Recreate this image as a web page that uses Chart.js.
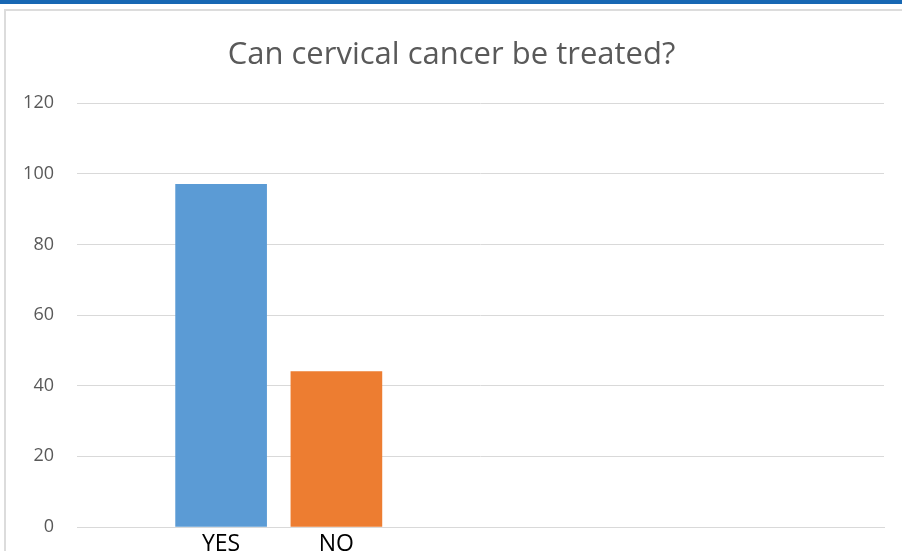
<!DOCTYPE html>
<html>
<head>
<meta charset="utf-8">
<script src="https://cdn.jsdelivr.net/npm/chart.js@4"></script>
<style>
  html, body { margin: 0; padding: 0; background: #fff; overflow: hidden; }
  #wrap { position: relative; width: 902px; height: 551px; overflow: hidden; }
  #band { position: absolute; left: 0; top: 0; width: 902px; height: 4px; background: #1767b3; }
  #frameTop { position: absolute; left: 4px; top: 9px; width: 898px; height: 2px; background: #dcdcdc; }
  #frameLeft { position: absolute; left: 4px; top: 9px; width: 2px; height: 542px; background: #dcdcdc; }
  canvas { position: absolute; left: 0; top: 0; }
</style>
</head>
<body>
<div id="wrap">
  <div id="band"></div>
  <div id="frameTop"></div>
  <div id="frameLeft"></div>
  <canvas id="myChart" width="902" height="551"></canvas>
</div>
<script>
// categorías (los huecos dejan el espacio vacío a la derecha del gráfico)
const categorias = ['', '', 'YES', '', 'NO', '', '', '', '', '', '', '', '', ''];
const valores = [null, null, 97, null, 44, null, null, null, null, null, null, null, null, null];
const colores = ['', '', '#5B9BD5', '', '#ED7D31', '', '', '', '', '', '', '', '', ''];
const ticksY = [0, 20, 40, 60, 80, 100, 120];

const ctx = document.getElementById('myChart').getContext('2d');
const chart = new Chart(ctx, {
    type: 'bar',
    data: {
        labels: categorias,
        datasets: [{
            data: valores,
            backgroundColor: colores,
            barThickness: 91,
            skipNull: true
        }]
    },
    options: {
        responsive: false,
        animation: false,
        layout: { padding: { left: 19, right: 18, top: 22, bottom: 0 } },
        plugins: {
            legend: { display: false },
            tooltip: { enabled: false },
            title: {
                display: true,
                text: 'Can cervical cancer be treated?',
                color: '#595959',
                font: { family: 'Open Sans', size: 31, weight: 'normal' },
                padding: { top: 15, bottom: 29 }
            }
        },
        scales: {
            x: {
                grid: { display: false, drawTicks: false },
                border: { display: true, color: '#d9d9d9', width: 1 },
                ticks: {
                    color: '#000',
                    font: { family: 'Open Sans', size: 23 },
                    padding: 4,
                    autoSkip: false,
                    maxRotation: 0
                },
                afterFit: function (scale) { scale.height = 24; }
            },
            y: {
                min: 0,
                max: 120,
                afterBuildTicks: function (scale) {
                    scale.ticks = ticksY.map(v => ({ value: v }));
                },
                grid: { color: '#d9d9d9', drawTicks: true, tickLength: 23, tickColor: 'rgba(0,0,0,0)' },
                border: { display: false },
                ticks: {
                    color: '#595959',
                    font: { family: 'Open Sans', size: 18 },
                    padding: 0
                },
                afterFit: function (scale) { scale.width = 58; }
            }
        }
    }
});
</script>
</body>
</html>
